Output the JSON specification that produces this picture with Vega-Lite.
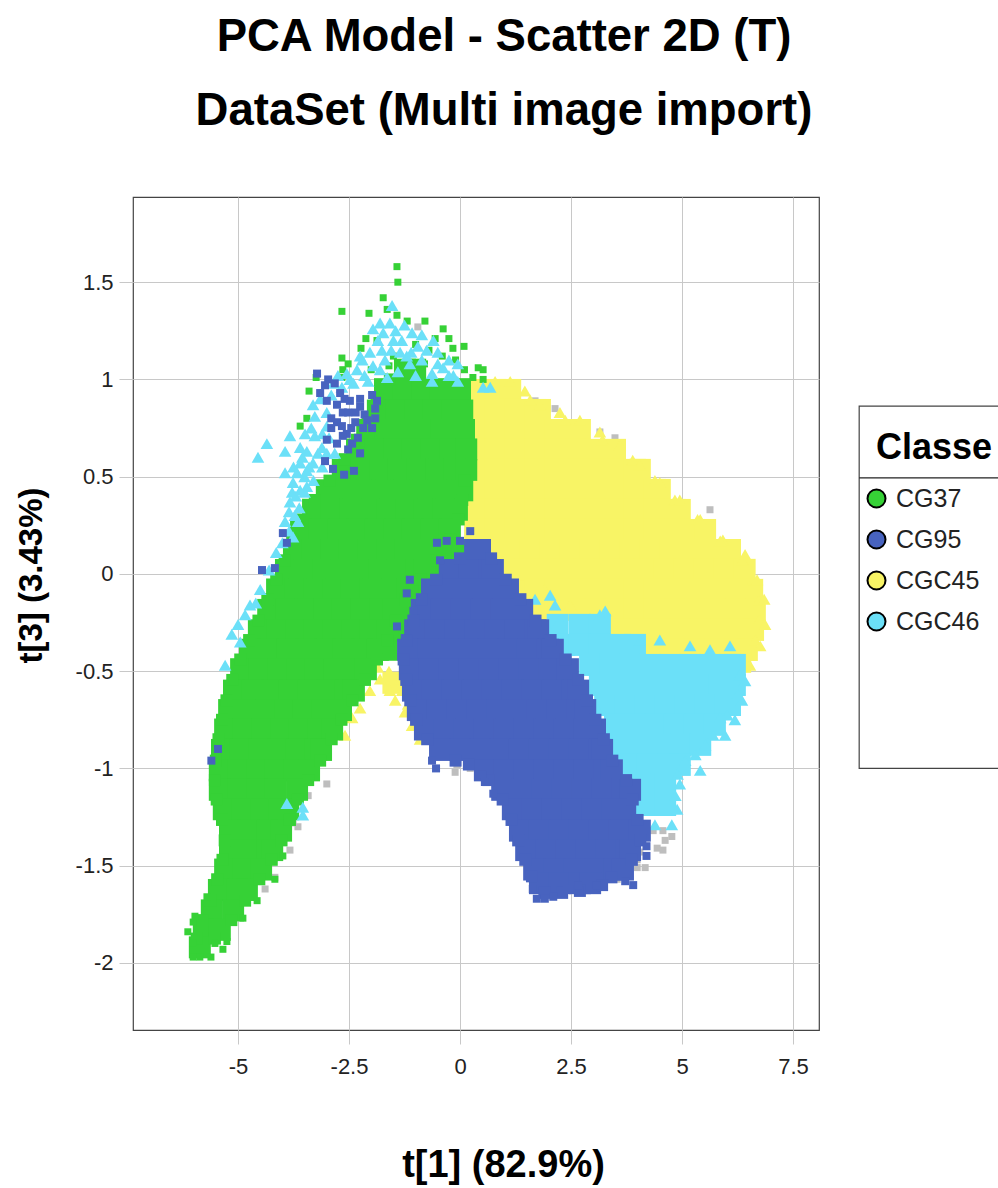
{"$schema":"https://vega.github.io/schema/vega-lite/v6.json","width":686,"height":833,"autosize":{"type":"none"},"padding":{"left":133,"top":197,"right":179,"bottom":158},"background":"white","title":{"text":["PCA Model - Scatter 2D (T)","DataSet (Multi image import)"],"font":"Liberation Sans","fontSize":45.5,"fontWeight":"bold","color":"#000","lineHeight":74,"anchor":"middle","dx":28,"offset":63},"config":{"view":{"stroke":"#444","strokeWidth":1.2},"font":"Liberation Sans"},
"datasets":{
"box":[{"x":8.99,"x2":13,"y":0.863,"y2":-1.0}],
"line":[{"x":8.99,"x2":13,"y":0.494}],
"ttl":[{"x":9.37,"y":0.645,"t":"Classe"}],
"grey":[{"x":-3,"y":-1.08},{"x":-3.42,"y":-1.14},{"x":-3.65,"y":-1.3},{"x":-3.76,"y":-1.28},{"x":-3.83,"y":-1.42},{"x":-4.17,"y":-1.56},{"x":-4.39,"y":-1.62},{"x":4.35,"y":-1.32},{"x":4.57,"y":-1.32},{"x":4.77,"y":-1.35},{"x":4.62,"y":-1.37},{"x":4.44,"y":-1.41},{"x":4.57,"y":-1.42},{"x":4.05,"y":-1.43},{"x":3.99,"y":-1.47},{"x":4.17,"y":-1.51},{"x":3.99,"y":-1.51},{"x":3,"y":-1.59},{"x":3.54,"y":-1.57},{"x":-0.07,"y":-0.98},{"x":-0.11,"y":-1.02},{"x":0.23,"y":-1},{"x":0.68,"y":-1.05},{"x":-0.38,"y":-0.92},{"x":-0.95,"y":1.27},{"x":1.69,"y":0.89},{"x":2.14,"y":0.85},{"x":3.49,"y":0.7},{"x":3.15,"y":0.73},{"x":5.63,"y":0.33}],
"yc":[{"x":-1.5,"y":-0.56},{"x":1.3,"y":-0.082},{"x":1.7,"y":-0.185},{"x":2.15,"y":-0.185},{"x":0.34,"y":0.946},{"x":0.79,"y":0.946},{"x":1.13,"y":0.946},{"x":0.34,"y":0.843},{"x":0.79,"y":0.843},{"x":1.24,"y":0.843},{"x":1.69,"y":0.843},{"x":1.8,"y":0.843},{"x":0.34,"y":0.74},{"x":0.79,"y":0.74},{"x":1.24,"y":0.74},{"x":1.69,"y":0.74},{"x":2.14,"y":0.74},{"x":2.59,"y":0.74},{"x":2.7,"y":0.74},{"x":0.34,"y":0.638},{"x":0.79,"y":0.638},{"x":1.24,"y":0.638},{"x":1.69,"y":0.638},{"x":2.14,"y":0.638},{"x":2.59,"y":0.638},{"x":3.04,"y":0.638},{"x":3.49,"y":0.638},{"x":0.34,"y":0.535},{"x":0.79,"y":0.535},{"x":1.24,"y":0.535},{"x":1.69,"y":0.535},{"x":2.14,"y":0.535},{"x":2.59,"y":0.535},{"x":3.04,"y":0.535},{"x":3.49,"y":0.535},{"x":3.94,"y":0.535},{"x":4.05,"y":0.535},{"x":0.34,"y":0.432},{"x":0.79,"y":0.432},{"x":1.24,"y":0.432},{"x":1.69,"y":0.432},{"x":2.14,"y":0.432},{"x":2.59,"y":0.432},{"x":3.04,"y":0.432},{"x":3.49,"y":0.432},{"x":3.94,"y":0.432},{"x":4.39,"y":0.432},{"x":4.5,"y":0.432},{"x":0.34,"y":0.329},{"x":0.79,"y":0.329},{"x":1.24,"y":0.329},{"x":1.69,"y":0.329},{"x":2.14,"y":0.329},{"x":2.59,"y":0.329},{"x":3.04,"y":0.329},{"x":3.49,"y":0.329},{"x":3.94,"y":0.329},{"x":4.39,"y":0.329},{"x":4.84,"y":0.329},{"x":4.95,"y":0.329},{"x":0.34,"y":0.226},{"x":0.79,"y":0.226},{"x":1.24,"y":0.226},{"x":1.69,"y":0.226},{"x":2.14,"y":0.226},{"x":2.59,"y":0.226},{"x":3.04,"y":0.226},{"x":3.49,"y":0.226},{"x":3.94,"y":0.226},{"x":4.39,"y":0.226},{"x":4.84,"y":0.226},{"x":5.29,"y":0.226},{"x":5.52,"y":0.226},{"x":0.68,"y":0.123},{"x":1.13,"y":0.123},{"x":1.58,"y":0.123},{"x":2.03,"y":0.123},{"x":2.48,"y":0.123},{"x":2.93,"y":0.123},{"x":3.38,"y":0.123},{"x":3.83,"y":0.123},{"x":4.28,"y":0.123},{"x":4.73,"y":0.123},{"x":5.18,"y":0.123},{"x":5.63,"y":0.123},{"x":6.08,"y":0.123},{"x":1.01,"y":0.021},{"x":1.46,"y":0.021},{"x":1.91,"y":0.021},{"x":2.36,"y":0.021},{"x":2.81,"y":0.021},{"x":3.26,"y":0.021},{"x":3.71,"y":0.021},{"x":4.16,"y":0.021},{"x":4.61,"y":0.021},{"x":5.06,"y":0.021},{"x":5.51,"y":0.021},{"x":5.96,"y":0.021},{"x":6.41,"y":0.021},{"x":1.69,"y":-0.082},{"x":2.14,"y":-0.082},{"x":2.59,"y":-0.082},{"x":3.04,"y":-0.082},{"x":3.49,"y":-0.082},{"x":3.94,"y":-0.082},{"x":4.39,"y":-0.082},{"x":4.84,"y":-0.082},{"x":5.29,"y":-0.082},{"x":5.74,"y":-0.082},{"x":6.19,"y":-0.082},{"x":6.58,"y":-0.082},{"x":2.59,"y":-0.185},{"x":3.04,"y":-0.185},{"x":3.49,"y":-0.185},{"x":3.94,"y":-0.185},{"x":4.39,"y":-0.185},{"x":4.84,"y":-0.185},{"x":5.29,"y":-0.185},{"x":5.74,"y":-0.185},{"x":6.19,"y":-0.185},{"x":6.64,"y":-0.185},{"x":3.6,"y":-0.288},{"x":4.05,"y":-0.288},{"x":4.5,"y":-0.288},{"x":4.95,"y":-0.288},{"x":5.4,"y":-0.288},{"x":5.85,"y":-0.288},{"x":6.3,"y":-0.288},{"x":6.6,"y":-0.288},{"x":4.39,"y":-0.391},{"x":4.84,"y":-0.391},{"x":5.29,"y":-0.391},{"x":5.74,"y":-0.391},{"x":6.19,"y":-0.391},{"x":6.46,"y":-0.391},{"x":5.18,"y":-0.452},{"x":5.63,"y":-0.452},{"x":6.08,"y":-0.452},{"x":6.31,"y":-0.452}],
"yt":[{"x":1.58,"y":0.895},{"x":2.37,"y":0.79},{"x":3.21,"y":0.69},{"x":3.89,"y":0.585},{"x":4.39,"y":0.48},{"x":4.84,"y":0.38},{"x":5.35,"y":0.28},{"x":5.92,"y":0.175},{"x":6.36,"y":0.07},{"x":6.61,"y":-0.03},{"x":6.73,"y":-0.135},{"x":6.74,"y":-0.235},{"x":6.65,"y":-0.34},{"x":6.5,"y":-0.42},{"x":0.45,"y":0.97},{"x":0.79,"y":0.99},{"x":1.13,"y":0.99},{"x":1.46,"y":0.94},{"x":1.8,"y":0.87},{"x":2.25,"y":0.83},{"x":2.7,"y":0.79},{"x":3.15,"y":0.73},{"x":3.6,"y":0.66},{"x":4.05,"y":0.56},{"x":4.5,"y":0.47},{"x":4.95,"y":0.38},{"x":5.41,"y":0.28},{"x":5.86,"y":0.17},{"x":6.42,"y":0.1},{"x":6.69,"y":-0.03},{"x":6.85,"y":-0.13},{"x":6.87,"y":-0.26},{"x":6.76,"y":-0.37},{"x":6.53,"y":-0.47},{"x":5.97,"y":-0.47},{"x":5.41,"y":-0.45},{"x":4.95,"y":-0.5},{"x":4.5,"y":-0.44},{"x":4.05,"y":-0.42},{"x":3.49,"y":-0.34},{"x":2.93,"y":-0.23},{"x":2.48,"y":-0.16},{"x":1.91,"y":-0.08},{"x":1.46,"y":-0.11},{"x":0.9,"y":-0.005},{"x":-1.8,"y":-0.54},{"x":-1.58,"y":-0.6},{"x":-1.35,"y":-0.54},{"x":-1.46,"y":-0.65},{"x":-1.17,"y":-0.67},{"x":-1.08,"y":-0.78},{"x":-0.9,"y":-0.85},{"x":-1.24,"y":-0.71},{"x":-2.25,"y":-0.69},{"x":-2.43,"y":-0.74},{"x":-2.03,"y":-0.6},{"x":-2.59,"y":-0.83},{"x":-1.6,"y":-0.5},{"x":-1.85,"y":-0.48},{"x":-1.3,"y":-0.6},{"x":-1,"y":-0.72}],
"cc":[{"x":2.2,"y":-0.262},{"x":2.35,"y":-0.365},{"x":2.7,"y":-0.262},{"x":3.15,"y":-0.262},{"x":2.7,"y":-0.365},{"x":3.15,"y":-0.365},{"x":3.6,"y":-0.365},{"x":3.94,"y":-0.365},{"x":2.93,"y":-0.468},{"x":3.38,"y":-0.468},{"x":3.83,"y":-0.468},{"x":4.28,"y":-0.468},{"x":4.73,"y":-0.468},{"x":5.18,"y":-0.468},{"x":5.63,"y":-0.468},{"x":6.08,"y":-0.468},{"x":6.19,"y":-0.468},{"x":3.15,"y":-0.571},{"x":3.6,"y":-0.571},{"x":4.05,"y":-0.571},{"x":4.5,"y":-0.571},{"x":4.95,"y":-0.571},{"x":5.4,"y":-0.571},{"x":5.85,"y":-0.571},{"x":6.19,"y":-0.571},{"x":3.27,"y":-0.674},{"x":3.72,"y":-0.674},{"x":4.17,"y":-0.674},{"x":4.62,"y":-0.674},{"x":5.07,"y":-0.674},{"x":5.52,"y":-0.674},{"x":5.97,"y":-0.674},{"x":6.08,"y":-0.674},{"x":3.49,"y":-0.776},{"x":3.94,"y":-0.776},{"x":4.39,"y":-0.776},{"x":4.84,"y":-0.776},{"x":5.29,"y":-0.776},{"x":5.74,"y":-0.776},{"x":3.6,"y":-0.879},{"x":4.05,"y":-0.879},{"x":4.5,"y":-0.879},{"x":4.95,"y":-0.879},{"x":5.41,"y":-0.879},{"x":3.78,"y":-0.982},{"x":4.23,"y":-0.982},{"x":4.68,"y":-0.982},{"x":4.95,"y":-0.982},{"x":4.05,"y":-1.085},{"x":4.5,"y":-1.085},{"x":4.62,"y":-1.085},{"x":4.17,"y":-1.188},{"x":4.62,"y":-1.188}],
"ct":[{"x":-2.25,"y":1.12},{"x":-2.15,"y":1.02},{"x":-1.85,"y":1.2},{"x":-1.45,"y":1.25},{"x":-1.25,"y":1.28},{"x":-1.2,"y":1.12},{"x":-1,"y":1.02},{"x":-0.75,"y":1.15},{"x":-0.6,"y":1.2},{"x":-0.5,"y":1.08},{"x":-0.25,"y":1.1},{"x":-0.15,"y":1.02},{"x":-1.8,"y":1.05},{"x":-1.55,"y":1.15},{"x":-2.55,"y":1.03},{"x":-2.75,"y":1.02},{"x":-2.85,"y":0.98},{"x":-3.35,"y":0.75},{"x":-3.15,"y":0.9},{"x":-3.4,"y":0.55},{"x":-3.5,"y":0.5},{"x":-3.55,"y":0.6},{"x":-3.75,"y":0.55},{"x":-3.7,"y":0.4},{"x":-3.65,"y":0.27},{"x":-3.85,"y":0.32},{"x":-3.45,"y":0.45},{"x":-3.2,"y":0.62},{"x":-3,"y":0.62},{"x":-3.1,"y":0.55},{"x":-2.95,"y":0.7},{"x":6.3,"y":-0.52},{"x":6.25,"y":-0.62},{"x":6.02,"y":-0.725},{"x":5.7,"y":-0.83},{"x":5.3,"y":-0.93},{"x":4.9,"y":-1.03},{"x":4.85,"y":-1.14},{"x":-1.1,"y":1.14},{"x":-0.95,"y":1.17},{"x":-1.5,"y":1.2},{"x":-2.2,"y":1.1},{"x":-2.4,"y":0.98},{"x":-0.5,"y":1.14},{"x":-0.25,"y":1.02},{"x":-2.9,"y":0.92},{"x":-3.1,"y":0.72},{"x":-3.45,"y":0.63},{"x":-3.3,"y":0.48},{"x":-3.5,"y":0.42},{"x":-3.62,"y":0.34},{"x":-3.85,"y":0.22},{"x":-4,"y":0.16},{"x":-4.3,"y":0.02},{"x":-4.6,"y":-0.15},{"x":-4.95,"y":-0.35},{"x":6.42,"y":-0.55},{"x":6.35,"y":-0.65},{"x":6.19,"y":-0.75},{"x":5.97,"y":-0.83},{"x":5.52,"y":-0.88},{"x":5.41,"y":-1.01},{"x":5.86,"y":-0.74},{"x":4.95,"y":-1.08},{"x":4.89,"y":-1.21},{"x":4.77,"y":-1.29},{"x":4.39,"y":-1.29},{"x":5.07,"y":-0.96},{"x":1.69,"y":-0.13},{"x":2.03,"y":-0.11},{"x":2.25,"y":-0.24},{"x":1.64,"y":-0.24},{"x":1.98,"y":-0.28},{"x":2.14,"y":-0.16},{"x":3.15,"y":-0.21},{"x":3.27,"y":-0.19},{"x":4.05,"y":-0.34},{"x":4.5,"y":-0.34},{"x":5.18,"y":-0.37},{"x":5.63,"y":-0.39},{"x":6.08,"y":-0.37},{"x":3.04,"y":-0.67},{"x":3.06,"y":-0.8},{"x":3.15,"y":-0.98},{"x":-1.96,"y":1.26},{"x":-1.8,"y":1.29},{"x":-1.53,"y":1.38},{"x":-1.58,"y":1.29},{"x":-1.73,"y":1.24},{"x":-1.31,"y":1.2},{"x":-1.08,"y":1.24},{"x":-0.86,"y":1.23},{"x":-1.76,"y":1.15},{"x":-2.03,"y":1.14},{"x":-2.32,"y":1.05},{"x":-1.96,"y":1.07},{"x":-1.69,"y":1.1},{"x":-1.35,"y":1.14},{"x":-1.13,"y":1.08},{"x":-1.4,"y":1.04},{"x":-1.64,"y":1.01},{"x":-2.07,"y":0.99},{"x":-2.48,"y":1},{"x":-2.66,"y":0.96},{"x":-0.63,"y":1.03},{"x":-0.38,"y":1.06},{"x":-0.05,"y":1.08},{"x":-0.63,"y":0.99},{"x":-0.05,"y":0.99},{"x":-0.86,"y":1.1},{"x":0.52,"y":0.96},{"x":0.68,"y":0.96},{"x":-3.31,"y":0.87},{"x":-3,"y":0.83},{"x":-3,"y":0.76},{"x":-3.27,"y":0.81},{"x":-3.49,"y":0.72},{"x":-3.27,"y":0.71},{"x":-3.11,"y":0.65},{"x":-2.82,"y":0.62},{"x":-3.83,"y":0.71},{"x":-4.35,"y":0.67},{"x":-4.55,"y":0.6},{"x":-3.94,"y":0.63},{"x":-3.6,"y":0.65},{"x":-3.6,"y":0.57},{"x":-3.31,"y":0.57},{"x":-3.94,"y":0.52},{"x":-3.67,"y":0.52},{"x":-3.45,"y":0.53},{"x":-3.76,"y":0.47},{"x":-3.6,"y":0.43},{"x":-3.78,"y":0.42},{"x":-3.83,"y":0.37},{"x":-3.72,"y":0.3},{"x":-3.94,"y":0.27},{"x":-3.76,"y":0.19},{"x":-4.14,"y":0.11},{"x":-5,"y":-0.26},{"x":-5.14,"y":-0.31},{"x":-4.84,"y":-0.21},{"x":-5.29,"y":-0.47},{"x":-4.5,"y":-0.08},{"x":-4.73,"y":-0.16},{"x":-3.9,"y":-1.18},{"x":-3.54,"y":-1.2},{"x":-3.54,"y":-1.24}],
"gc":[{"x":-0.05,"y":0.123},{"x":0.3,"y":0.123},{"x":-0.6,"y":0.02},{"x":-1,"y":-0.08},{"x":-1.3,"y":-0.185},{"x":-1.45,"y":-0.29},{"x":-1.65,"y":-0.39},{"x":-1.24,"y":1.05},{"x":-1.01,"y":1.05},{"x":-1.69,"y":0.95},{"x":-1.27,"y":0.95},{"x":-0.85,"y":0.95},{"x":-0.43,"y":0.95},{"x":0,"y":0.95},{"x":-1.85,"y":0.84},{"x":-1.43,"y":0.84},{"x":-1.01,"y":0.84},{"x":-0.59,"y":0.84},{"x":-0.17,"y":0.84},{"x":0.05,"y":0.84},{"x":-2.09,"y":0.74},{"x":-1.67,"y":0.74},{"x":-1.25,"y":0.74},{"x":-0.83,"y":0.74},{"x":-0.41,"y":0.74},{"x":0.01,"y":0.74},{"x":0.09,"y":0.74},{"x":-2.32,"y":0.64},{"x":-1.9,"y":0.64},{"x":-1.48,"y":0.64},{"x":-1.06,"y":0.64},{"x":-0.64,"y":0.64},{"x":-0.22,"y":0.64},{"x":0.14,"y":0.64},{"x":-2.64,"y":0.535},{"x":-2.22,"y":0.535},{"x":-1.8,"y":0.535},{"x":-1.38,"y":0.535},{"x":-0.96,"y":0.535},{"x":-0.54,"y":0.535},{"x":-0.12,"y":0.535},{"x":0.14,"y":0.535},{"x":-3,"y":0.43},{"x":-2.58,"y":0.43},{"x":-2.16,"y":0.43},{"x":-1.74,"y":0.43},{"x":-1.32,"y":0.43},{"x":-0.9,"y":0.43},{"x":-0.48,"y":0.43},{"x":-0.06,"y":0.43},{"x":0.05,"y":0.43},{"x":-3.31,"y":0.33},{"x":-2.89,"y":0.33},{"x":-2.47,"y":0.33},{"x":-2.05,"y":0.33},{"x":-1.63,"y":0.33},{"x":-1.21,"y":0.33},{"x":-0.79,"y":0.33},{"x":-0.37,"y":0.33},{"x":-0.07,"y":0.33},{"x":-3.58,"y":0.226},{"x":-3.16,"y":0.226},{"x":-2.74,"y":0.226},{"x":-2.32,"y":0.226},{"x":-1.9,"y":0.226},{"x":-1.48,"y":0.226},{"x":-1.06,"y":0.226},{"x":-0.64,"y":0.226},{"x":-0.23,"y":0.226},{"x":-3.74,"y":0.123},{"x":-3.32,"y":0.123},{"x":-2.9,"y":0.123},{"x":-2.48,"y":0.123},{"x":-2.06,"y":0.123},{"x":-1.64,"y":0.123},{"x":-1.22,"y":0.123},{"x":-0.8,"y":0.123},{"x":-0.45,"y":0.123},{"x":-3.92,"y":0.02},{"x":-3.5,"y":0.02},{"x":-3.08,"y":0.02},{"x":-2.66,"y":0.02},{"x":-2.24,"y":0.02},{"x":-1.82,"y":0.02},{"x":-1.4,"y":0.02},{"x":-0.98,"y":0.02},{"x":-0.81,"y":0.02},{"x":-4.12,"y":-0.08},{"x":-3.7,"y":-0.08},{"x":-3.28,"y":-0.08},{"x":-2.86,"y":-0.08},{"x":-2.44,"y":-0.08},{"x":-2.02,"y":-0.08},{"x":-1.6,"y":-0.08},{"x":-1.19,"y":-0.08},{"x":-4.32,"y":-0.185},{"x":-3.9,"y":-0.185},{"x":-3.48,"y":-0.185},{"x":-3.06,"y":-0.185},{"x":-2.64,"y":-0.185},{"x":-2.22,"y":-0.185},{"x":-1.8,"y":-0.185},{"x":-1.49,"y":-0.185},{"x":-4.53,"y":-0.29},{"x":-4.11,"y":-0.29},{"x":-3.69,"y":-0.29},{"x":-3.27,"y":-0.29},{"x":-2.85,"y":-0.29},{"x":-2.43,"y":-0.29},{"x":-2.01,"y":-0.29},{"x":-1.64,"y":-0.29},{"x":-4.73,"y":-0.39},{"x":-4.31,"y":-0.39},{"x":-3.89,"y":-0.39},{"x":-3.47,"y":-0.39},{"x":-3.05,"y":-0.39},{"x":-2.63,"y":-0.39},{"x":-2.21,"y":-0.39},{"x":-1.85,"y":-0.39},{"x":-4.93,"y":-0.49},{"x":-4.51,"y":-0.49},{"x":-4.09,"y":-0.49},{"x":-3.67,"y":-0.49},{"x":-3.25,"y":-0.49},{"x":-2.83,"y":-0.49},{"x":-2.41,"y":-0.49},{"x":-2.12,"y":-0.49},{"x":-5.09,"y":-0.6},{"x":-4.67,"y":-0.6},{"x":-4.25,"y":-0.6},{"x":-3.83,"y":-0.6},{"x":-3.41,"y":-0.6},{"x":-2.99,"y":-0.6},{"x":-2.57,"y":-0.6},{"x":-2.39,"y":-0.6},{"x":-5.2,"y":-0.7},{"x":-4.78,"y":-0.7},{"x":-4.36,"y":-0.7},{"x":-3.94,"y":-0.7},{"x":-3.52,"y":-0.7},{"x":-3.1,"y":-0.7},{"x":-2.68,"y":-0.7},{"x":-5.29,"y":-0.8},{"x":-4.87,"y":-0.8},{"x":-4.45,"y":-0.8},{"x":-4.03,"y":-0.8},{"x":-3.61,"y":-0.8},{"x":-3.19,"y":-0.8},{"x":-2.88,"y":-0.8},{"x":-5.36,"y":-0.905},{"x":-4.94,"y":-0.905},{"x":-4.52,"y":-0.905},{"x":-4.1,"y":-0.905},{"x":-3.68,"y":-0.905},{"x":-3.26,"y":-0.905},{"x":-3.13,"y":-0.905},{"x":-5.41,"y":-1.01},{"x":-4.99,"y":-1.01},{"x":-4.57,"y":-1.01},{"x":-4.15,"y":-1.01},{"x":-3.73,"y":-1.01},{"x":-3.4,"y":-1.01},{"x":-5.41,"y":-1.11},{"x":-4.99,"y":-1.11},{"x":-4.57,"y":-1.11},{"x":-4.15,"y":-1.11},{"x":-3.67,"y":-1.11},{"x":-5.32,"y":-1.21},{"x":-4.9,"y":-1.21},{"x":-4.48,"y":-1.21},{"x":-4.06,"y":-1.21},{"x":-3.87,"y":-1.21},{"x":-5.18,"y":-1.32},{"x":-4.76,"y":-1.32},{"x":-4.34,"y":-1.32},{"x":-4.03,"y":-1.32},{"x":-5.18,"y":-1.42},{"x":-4.76,"y":-1.42},{"x":-4.34,"y":-1.42},{"x":-4.23,"y":-1.42},{"x":-5.29,"y":-1.52},{"x":-4.87,"y":-1.52},{"x":-4.48,"y":-1.52},{"x":-5.43,"y":-1.625},{"x":-5.01,"y":-1.625},{"x":-4.8,"y":-1.625},{"x":-5.59,"y":-1.73},{"x":-5.11,"y":-1.73},{"x":-5.77,"y":-1.83},{"x":-5.41,"y":-1.83},{"x":-5.86,"y":-1.92}],
"gm":[{"x":-1.58,"y":1},{"x":-1.88,"y":0.895},{"x":-2.08,"y":0.79},{"x":-2.32,"y":0.69},{"x":-2.6,"y":0.59},{"x":-2.94,"y":0.48},{"x":-3.27,"y":0.38},{"x":-3.56,"y":0.28},{"x":-3.78,"y":0.175},{"x":-3.95,"y":0.07},{"x":-4.14,"y":-0.03},{"x":-4.34,"y":-0.13},{"x":-4.54,"y":-0.24},{"x":-4.75,"y":-0.34},{"x":-4.95,"y":-0.44},{"x":-5.13,"y":-0.545},{"x":-5.26,"y":-0.65},{"x":-5.36,"y":-0.75},{"x":-5.44,"y":-0.85},{"x":-5.5,"y":-0.96},{"x":-5.52,"y":-1.06},{"x":-5.48,"y":-1.16},{"x":-5.36,"y":-1.265},{"x":-5.3,"y":-1.37},{"x":-5.35,"y":-1.47},{"x":-5.47,"y":-1.57},{"x":-5.62,"y":-1.68},{"x":-5.8,"y":-1.78},{"x":-5.93,"y":-1.875},{"x":0.1,"y":0.48},{"x":0.05,"y":0.38},{"x":-0.03,"y":0.28},{"x":-0.22,"y":0.175},{"x":-0.52,"y":0.07},{"x":-0.88,"y":-0.03},{"x":-1.22,"y":-0.13},{"x":-1.45,"y":-0.24},{"x":-1.63,"y":-0.34},{"x":-1.87,"y":-0.44},{"x":-2.14,"y":-0.545},{"x":-2.42,"y":-0.65},{"x":-2.67,"y":-0.75},{"x":-2.89,"y":-0.85},{"x":-3.15,"y":-0.96},{"x":-3.42,"y":-1.06},{"x":-3.65,"y":-1.16},{"x":-3.83,"y":-1.265},{"x":-4.02,"y":-1.37},{"x":-4.24,"y":-1.47},{"x":-4.52,"y":-1.57},{"x":-4.84,"y":-1.68},{"x":-5.15,"y":-1.78},{"x":-5.52,"y":-1.875}],
"gs":[{"x":-1.42,"y":1.58},{"x":-1.4,"y":1.5},{"x":-1.73,"y":1.42},{"x":-2.66,"y":1.35},{"x":-2.05,"y":1.34},{"x":-1.64,"y":1.36},{"x":-1.42,"y":1.33},{"x":-0.79,"y":1.3},{"x":-1.19,"y":1.3},{"x":-0.38,"y":1.26},{"x":-2.12,"y":1.21},{"x":-1.87,"y":1.2},{"x":-0.56,"y":1.21},{"x":-0.25,"y":1.21},{"x":-0.16,"y":1.16},{"x":0.09,"y":1.17},{"x":-2.23,"y":1.16},{"x":-2.66,"y":1.11},{"x":-2.52,"y":1.08},{"x":-2.64,"y":1.05},{"x":-2.66,"y":1.01},{"x":-3.24,"y":1.01},{"x":-3.4,"y":0.94},{"x":-3.45,"y":0.8},{"x":-3.6,"y":0.76},{"x":0.41,"y":1.06},{"x":0.52,"y":1.05},{"x":0.52,"y":1},{"x":0.29,"y":1.01},{"x":-1,"y":1.18},{"x":-0.7,"y":1.15},{"x":-1.5,"y":1.12},{"x":-0.4,"y":1.12},{"x":-0.1,"y":1.1},{"x":0.1,"y":1.05},{"x":-2,"y":1.05},{"x":-1.6,"y":1.07},{"x":-0.8,"y":1.08},{"x":-4.57,"y":-1.68},{"x":-4.17,"y":-1.57},{"x":-3.99,"y":-1.45},{"x":-4.89,"y":-1.77},{"x":-5.25,"y":-1.89},{"x":-5.34,"y":-1.93},{"x":-5.61,"y":-1.97},{"x":-6.01,"y":-1.97},{"x":-5.86,"y":-1.97},{"x":-6.13,"y":-1.84},{"x":-6.01,"y":-1.79},{"x":-6.01,"y":-1.9},{"x":-5.97,"y":-1.76},{"x":-5.7,"y":-1.66},{"x":-5.52,"y":-1.9}],
"bc":[{"x":0.34,"y":0.123},{"x":0.45,"y":0.123},{"x":-0.23,"y":0.02},{"x":0.22,"y":0.02},{"x":0.67,"y":0.02},{"x":0.74,"y":0.02},{"x":-0.63,"y":-0.08},{"x":-0.18,"y":-0.08},{"x":0.27,"y":-0.08},{"x":0.72,"y":-0.08},{"x":1.08,"y":-0.08},{"x":-0.86,"y":-0.185},{"x":-0.41,"y":-0.185},{"x":0.04,"y":-0.185},{"x":0.49,"y":-0.185},{"x":0.94,"y":-0.185},{"x":1.4,"y":-0.185},{"x":-1.01,"y":-0.29},{"x":-0.56,"y":-0.29},{"x":-0.11,"y":-0.29},{"x":0.34,"y":-0.29},{"x":0.79,"y":-0.29},{"x":1.24,"y":-0.29},{"x":1.7,"y":-0.29},{"x":1.76,"y":-0.29},{"x":-1.17,"y":-0.39},{"x":-0.72,"y":-0.39},{"x":-0.27,"y":-0.39},{"x":0.18,"y":-0.39},{"x":0.63,"y":-0.39},{"x":1.08,"y":-0.39},{"x":1.53,"y":-0.39},{"x":1.98,"y":-0.39},{"x":2.09,"y":-0.39},{"x":-1.13,"y":-0.49},{"x":-0.68,"y":-0.49},{"x":-0.23,"y":-0.49},{"x":0.22,"y":-0.49},{"x":0.67,"y":-0.49},{"x":1.12,"y":-0.49},{"x":1.57,"y":-0.49},{"x":2.02,"y":-0.49},{"x":2.43,"y":-0.49},{"x":-1.06,"y":-0.6},{"x":-0.61,"y":-0.6},{"x":-0.16,"y":-0.6},{"x":0.29,"y":-0.6},{"x":0.74,"y":-0.6},{"x":1.19,"y":-0.6},{"x":1.64,"y":-0.6},{"x":2.09,"y":-0.6},{"x":2.54,"y":-0.6},{"x":2.66,"y":-0.6},{"x":-0.95,"y":-0.7},{"x":-0.5,"y":-0.7},{"x":-0.05,"y":-0.7},{"x":0.4,"y":-0.7},{"x":0.85,"y":-0.7},{"x":1.3,"y":-0.7},{"x":1.75,"y":-0.7},{"x":2.2,"y":-0.7},{"x":2.65,"y":-0.7},{"x":2.82,"y":-0.7},{"x":-0.79,"y":-0.8},{"x":-0.34,"y":-0.8},{"x":0.11,"y":-0.8},{"x":0.56,"y":-0.8},{"x":1.01,"y":-0.8},{"x":1.46,"y":-0.8},{"x":1.91,"y":-0.8},{"x":2.36,"y":-0.8},{"x":2.81,"y":-0.8},{"x":3.04,"y":-0.8},{"x":-0.45,"y":-0.905},{"x":0,"y":-0.905},{"x":0.45,"y":-0.905},{"x":0.9,"y":-0.905},{"x":1.35,"y":-0.905},{"x":1.8,"y":-0.905},{"x":2.25,"y":-0.905},{"x":2.7,"y":-0.905},{"x":3.15,"y":-0.905},{"x":3.2,"y":-0.905},{"x":0.56,"y":-1.01},{"x":1.01,"y":-1.01},{"x":1.46,"y":-1.01},{"x":1.91,"y":-1.01},{"x":2.36,"y":-1.01},{"x":2.81,"y":-1.01},{"x":3.26,"y":-1.01},{"x":3.42,"y":-1.01},{"x":0.95,"y":-1.11},{"x":1.4,"y":-1.11},{"x":1.85,"y":-1.11},{"x":2.3,"y":-1.11},{"x":2.75,"y":-1.11},{"x":3.2,"y":-1.11},{"x":3.65,"y":-1.11},{"x":3.83,"y":-1.11},{"x":1.19,"y":-1.21},{"x":1.64,"y":-1.21},{"x":2.09,"y":-1.21},{"x":2.54,"y":-1.21},{"x":2.99,"y":-1.21},{"x":3.44,"y":-1.21},{"x":3.72,"y":-1.21},{"x":1.35,"y":-1.32},{"x":1.8,"y":-1.32},{"x":2.25,"y":-1.32},{"x":2.7,"y":-1.32},{"x":3.15,"y":-1.32},{"x":3.6,"y":-1.32},{"x":4.05,"y":-1.32},{"x":1.49,"y":-1.42},{"x":1.94,"y":-1.42},{"x":2.39,"y":-1.42},{"x":2.84,"y":-1.42},{"x":3.29,"y":-1.42},{"x":3.74,"y":-1.42},{"x":3.83,"y":-1.42},{"x":1.67,"y":-1.52},{"x":2.12,"y":-1.52},{"x":2.57,"y":-1.52},{"x":3.02,"y":-1.52},{"x":3.47,"y":-1.52},{"x":3.67,"y":-1.52},{"x":1.8,"y":-1.59},{"x":2.25,"y":-1.59},{"x":2.7,"y":-1.59},{"x":2.93,"y":-1.59}],
"bm":[{"x":-0.54,"y":-0.03},{"x":-0.86,"y":-0.13},{"x":-1.05,"y":-0.24},{"x":-1.2,"y":-0.34},{"x":-1.27,"y":-0.44},{"x":-1.21,"y":-0.545},{"x":-1.12,"y":-0.65},{"x":-0.99,"y":-0.75},{"x":-0.74,"y":-0.85},{"x":-0.1,"y":-0.96},{"x":0.2,"y":-0.98},{"x":0.64,"y":-1.06},{"x":0.96,"y":-1.16},{"x":1.16,"y":-1.265},{"x":1.31,"y":-1.37},{"x":1.47,"y":-1.47},{"x":1.62,"y":-1.555},{"x":0,"y":0.08},{"x":0.7,"y":0.08},{"x":1.03,"y":-0.03},{"x":1.36,"y":-0.13},{"x":1.7,"y":-0.24},{"x":2.04,"y":-0.34},{"x":2.38,"y":-0.44},{"x":2.66,"y":-0.545},{"x":2.86,"y":-0.65},{"x":3.05,"y":-0.75},{"x":3.24,"y":-0.85},{"x":3.43,"y":-0.96},{"x":3.74,"y":-1.06},{"x":3.89,"y":-1.16},{"x":4,"y":-1.265},{"x":4.06,"y":-1.37},{"x":3.87,"y":-1.47},{"x":3.41,"y":-1.56},{"x":1.9,"y":-1.64},{"x":2.3,"y":-1.64},{"x":2.7,"y":-1.63},{"x":3.2,"y":-1.6}],
"bs":[{"x":-2.6,"y":0.9},{"x":-2.35,"y":0.83},{"x":-2.45,"y":0.75},{"x":-2.9,"y":0.75},{"x":-2.15,"y":0.82},{"x":-2.3,"y":0.7},{"x":-2.55,"y":0.72},{"x":1.73,"y":-1.67},{"x":1.91,"y":-1.67},{"x":2.1,"y":-1.66},{"x":2.41,"y":-1.62},{"x":2.7,"y":-1.63},{"x":2.66,"y":-1.6},{"x":1.64,"y":-1.62},{"x":3.08,"y":-1.6},{"x":3.72,"y":-1.58},{"x":3.9,"y":-1.6},{"x":4.2,"y":-1.45},{"x":4.2,"y":-1.4},{"x":-0.54,"y":-1},{"x":-0.63,"y":-0.96},{"x":0.5,"y":-1.03},{"x":0.56,"y":-1.07},{"x":0.75,"y":-1.13},{"x":-0.52,"y":0.16},{"x":-0.3,"y":0.17},{"x":0,"y":0.17},{"x":0.23,"y":0.22},{"x":-0.45,"y":0.07},{"x":-1.13,"y":-0.03},{"x":-1.2,"y":-0.1},{"x":-1.42,"y":-0.27},{"x":-1.05,"y":-0.19},{"x":-3.22,"y":1.03},{"x":-2.97,"y":1},{"x":-2.82,"y":0.98},{"x":-3.04,"y":0.97},{"x":-3.15,"y":0.93},{"x":-3,"y":0.89},{"x":-2.77,"y":0.87},{"x":-2.48,"y":0.89},{"x":-2.25,"y":0.9},{"x":-1.98,"y":0.92},{"x":-1.87,"y":0.89},{"x":-1.91,"y":0.85},{"x":-1.91,"y":0.8},{"x":-2.09,"y":0.79},{"x":-1.98,"y":0.75},{"x":-2.18,"y":0.75},{"x":-2.36,"y":0.78},{"x":-2.64,"y":0.83},{"x":-2.52,"y":0.83},{"x":-2.25,"y":0.86},{"x":-2.77,"y":0.78},{"x":-2.66,"y":0.76},{"x":-2.64,"y":0.71},{"x":-2.77,"y":0.67},{"x":-2.43,"y":0.67},{"x":-2.52,"y":0.64},{"x":-2.25,"y":0.62},{"x":-3,"y":0.69},{"x":-3.04,"y":0.58},{"x":-2.86,"y":0.54},{"x":-2.61,"y":0.51},{"x":-2.39,"y":0.53},{"x":-3.99,"y":0.21},{"x":-3.9,"y":0.16},{"x":-4.46,"y":0.02},{"x":-4.17,"y":0.03},{"x":-2.7,"y":0.93},{"x":-2.9,"y":0.8},{"x":-5.6,"y":-0.96},{"x":-5.45,"y":-0.9}]},
"layer":[
{"data":{"name":"grey"},"mark":{"type":"square","size":49,"color":"#BEBEBE","opacity":1},"encoding":{"x":{"field":"x","type":"quantitative","title":"t[1] (82.9%)","scale":{"domain":[-7.365,8.085],"nice":false,"zero":false},"axis":{"values":[-5,-2.5,0,2.5,5,7.5],"labelExpr":"datum.value + ''","grid":true,"gridColor":"#c8c8c8","gridWidth":1,"domain":false,"tickColor":"#c8c8c8","tickSize":14,"labelFontSize":22,"labelColor":"#222","labelPadding":12,"labelFont":"Liberation Sans","titleFont":"Liberation Sans","titleFontSize":38,"titleFontWeight":"bold","titleColor":"#000","titlePadding":69,"titleX":370}},"y":{"field":"y","type":"quantitative","title":"t[3] (3.43%)","scale":{"domain":[-2.345,1.938],"nice":false,"zero":false},"axis":{"values":[-2,-1.5,-1,-0.5,0,0.5,1,1.5],"labelExpr":"datum.value + ''","grid":true,"gridColor":"#c8c8c8","gridWidth":1,"domain":false,"tickColor":"#c8c8c8","tickSize":14,"labelFontSize":22,"labelColor":"#222","labelPadding":6,"labelFont":"Liberation Sans","titleFont":"Liberation Sans","titleFontSize":33,"titleFontWeight":"bold","titleColor":"#000","titlePadding":27,"titleY":378}}}},
{"mark":{"type":"rule","color":"#555","strokeWidth":1.5},"encoding":{"x":{"datum":0,"type":"quantitative"}}},
{"mark":{"type":"rule","color":"#555","strokeWidth":1.5},"encoding":{"y":{"datum":0,"type":"quantitative"}}},
{"data":{"name":"yc"},"mark":{"type":"square","size":484,"opacity":1},"encoding":{"x":{"field":"x","type":"quantitative"},"y":{"field":"y","type":"quantitative"},"color":{"datum":"CGC45","type":"nominal","scale":{"domain":["CG37","CG95","CGC45","CGC46"],"range":["#36D136","#4863BF","#F8F465","#6BE0F8"]},"legend":{"title":null,"orient":"none","legendX":731,"legendY":289,"padding":0,"symbolType":"circle","symbolSize":324,"symbolStrokeColor":"#000","symbolStrokeWidth":2,"labelFont":"Liberation Sans","labelFontSize":25,"labelColor":"#222","labelOffset":7,"rowPadding":14}}}},
{"data":{"name":"yt"},"mark":{"type":"point","shape":"triangle-up","filled":true,"size":160,"opacity":1},"encoding":{"x":{"field":"x","type":"quantitative"},"y":{"field":"y","type":"quantitative"},"color":{"datum":"CGC45","type":"nominal"}}},
{"data":{"name":"cc"},"mark":{"type":"square","size":484,"opacity":1},"encoding":{"x":{"field":"x","type":"quantitative"},"y":{"field":"y","type":"quantitative"},"color":{"datum":"CGC46","type":"nominal"}}},
{"data":{"name":"gc"},"mark":{"type":"square","size":484,"opacity":1},"encoding":{"x":{"field":"x","type":"quantitative"},"y":{"field":"y","type":"quantitative"},"color":{"datum":"CG37","type":"nominal"}}},
{"data":{"name":"gm"},"mark":{"type":"square","size":144,"opacity":1},"encoding":{"x":{"field":"x","type":"quantitative"},"y":{"field":"y","type":"quantitative"},"color":{"datum":"CG37","type":"nominal"}}},
{"data":{"name":"gs"},"mark":{"type":"square","size":49,"opacity":1},"encoding":{"x":{"field":"x","type":"quantitative"},"y":{"field":"y","type":"quantitative"},"color":{"datum":"CG37","type":"nominal"}}},
{"data":{"name":"ct"},"mark":{"type":"point","shape":"triangle-up","filled":true,"size":160,"opacity":1},"encoding":{"x":{"field":"x","type":"quantitative"},"y":{"field":"y","type":"quantitative"},"color":{"datum":"CGC46","type":"nominal"}}},
{"data":{"name":"bc"},"mark":{"type":"square","size":484,"opacity":1},"encoding":{"x":{"field":"x","type":"quantitative"},"y":{"field":"y","type":"quantitative"},"color":{"datum":"CG95","type":"nominal"}}},
{"data":{"name":"bm"},"mark":{"type":"square","size":144,"opacity":1},"encoding":{"x":{"field":"x","type":"quantitative"},"y":{"field":"y","type":"quantitative"},"color":{"datum":"CG95","type":"nominal"}}},
{"data":{"name":"bs"},"mark":{"type":"square","size":64,"opacity":1},"encoding":{"x":{"field":"x","type":"quantitative"},"y":{"field":"y","type":"quantitative"},"color":{"datum":"CG95","type":"nominal"}}},
{"data":{"name":"box"},"mark":{"type":"rect","fill":"white","stroke":"#444","strokeWidth":1.2,"clip":false},"encoding":{"x":{"field":"x","type":"quantitative"},"x2":{"field":"x2"},"y":{"field":"y","type":"quantitative"},"y2":{"field":"y2"}}},
{"data":{"name":"line"},"mark":{"type":"rule","color":"#222","strokeWidth":1.2},"encoding":{"x":{"field":"x","type":"quantitative"},"x2":{"field":"x2"},"y":{"field":"y","type":"quantitative"}}},
{"data":{"name":"ttl"},"mark":{"type":"text","font":"Liberation Sans","fontSize":36,"fontWeight":"bold","color":"#000","align":"left","baseline":"middle"},"encoding":{"x":{"field":"x","type":"quantitative"},"y":{"field":"y","type":"quantitative"},"text":{"field":"t"}}}
]}
